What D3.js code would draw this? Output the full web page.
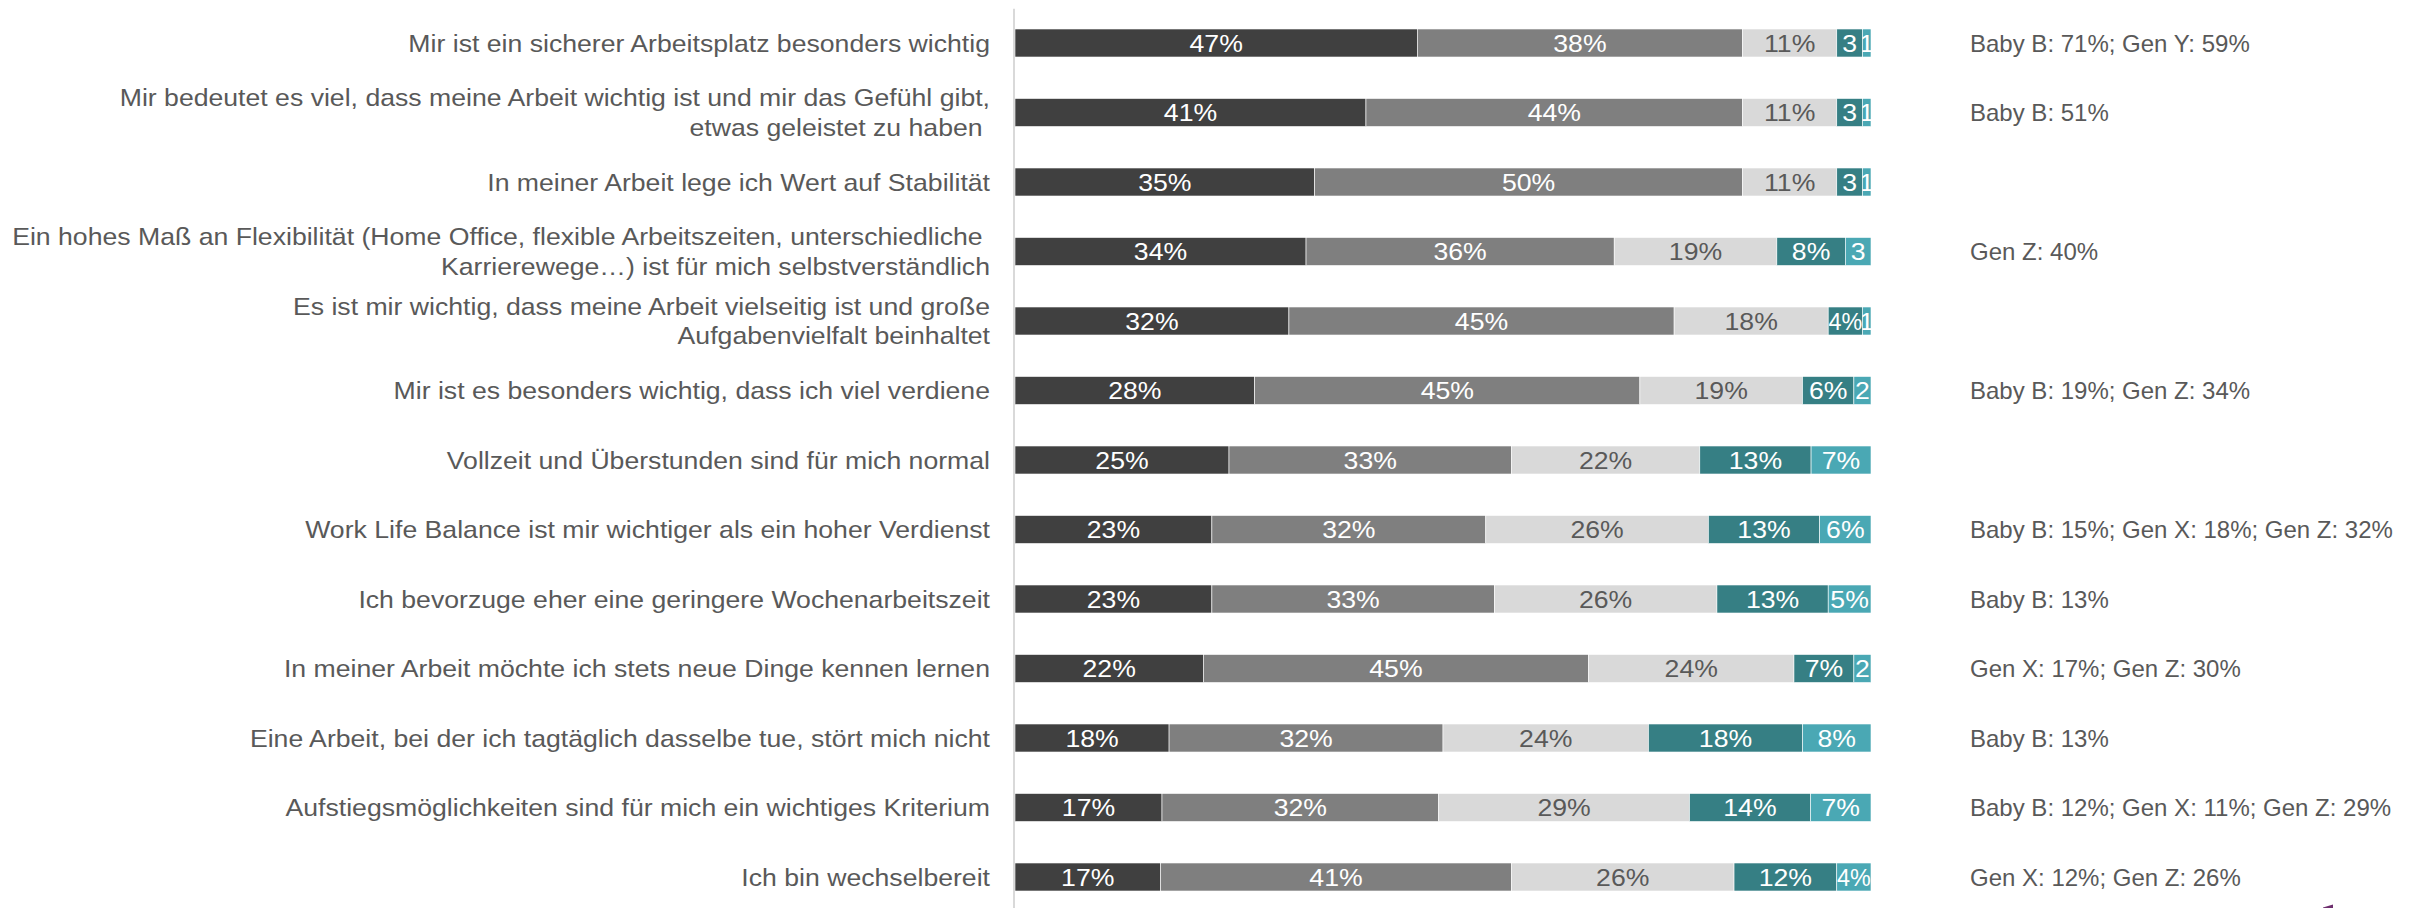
<!DOCTYPE html>
<html lang="de">
<head>
<meta charset="utf-8">
<title>Einstellungen zur Arbeit</title>
<script src="https://cdn.jsdelivr.net/npm/d3@7"></script>
<style>
  html, body { margin: 0; padding: 0; background: #ffffff; }
  svg { display: block; font-family: "Liberation Sans", Arial, Helvetica, sans-serif; }
  text { white-space: pre; }
</style>
</head>
<body>
<svg id="chart" width="2413" height="908"></svg>
<script>
// Statements, top to bottom ("\n" marks a manual line break)
const categories = [
  "Mir ist ein sicherer Arbeitsplatz besonders wichtig",
  "Mir bedeutet es viel, dass meine Arbeit wichtig ist und mir das Gefühl gibt,\netwas geleistet zu haben\u00a0",
  "In meiner Arbeit lege ich Wert auf Stabilität",
  "Ein hohes Maß an Flexibilität (Home Office, flexible Arbeitszeiten, unterschiedliche\u00a0\nKarrierewege…) ist für mich selbstverständlich",
  "Es ist mir wichtig, dass meine Arbeit vielseitig ist und große\nAufgabenvielfalt beinhaltet",
  "Mir ist es besonders wichtig, dass ich viel verdiene",
  "Vollzeit und Überstunden sind für mich normal",
  "Work Life Balance ist mir wichtiger als ein hoher Verdienst",
  "Ich bevorzuge eher eine geringere Wochenarbeitszeit",
  "In meiner Arbeit möchte ich stets neue Dinge kennen lernen",
  "Eine Arbeit, bei der ich tagtäglich dasselbe tue, stört mich nicht",
  "Aufstiegsmöglichkeiten sind für mich ein wichtiges Kriterium",
  "Ich bin wechselbereit"
];

// Answer shares in percent, one array per answer level
const agreeFull      = [47, 41, 35, 34, 32, 28, 25, 23, 23, 22, 18, 17, 17];
const agreeMostly    = [38, 44, 50, 36, 45, 45, 33, 32, 33, 45, 32, 32, 41];
const neutral        = [11, 11, 11, 19, 18, 19, 22, 26, 26, 24, 24, 29, 26];
const disagreeMostly = [ 3,  3,  3,  8,  4,  6, 13, 13, 13,  7, 18, 14, 12];
const disagreeFull   = [ 1,  1,  1,  3,  1,  2,  7,  6,  5,  2,  8,  7,  4];

// Notes on generation differences, shown right of each bar
const notes = [
  "Baby B: 71%; Gen Y: 59%",
  "Baby B: 51%",
  "",
  "Gen Z: 40%",
  "",
  "Baby B: 19%; Gen Z: 34%",
  "",
  "Baby B: 15%; Gen X: 18%; Gen Z: 32%",
  "Baby B: 13%",
  "Gen X: 17%; Gen Z: 30%",
  "Baby B: 13%",
  "Baby B: 12%; Gen X: 11%; Gen Z: 29%",
  "Gen X: 12%; Gen Z: 26%"
];

const seriesKeys = ["agreeFull", "agreeMostly", "neutral", "disagreeMostly", "disagreeFull"];
const seriesValues = { agreeFull, agreeMostly, neutral, disagreeMostly, disagreeFull };

const fill = d3.scaleOrdinal()
  .domain(seriesKeys)
  .range(["#404040", "#7f7f7f", "#d9d9d9", "#367f84", "#4aa8b4"]);
const labelFill = d3.scaleOrdinal()
  .domain(seriesKeys)
  .range(["#ffffff", "#ffffff", "#595959", "#ffffff", "#ffffff"]);

const svg = d3.select("#chart");
const textGrey = "#595959";
const fontSize = 24;
const stretch = 1.11;   // horizontal stretch of the chart's text

const rows = categories.map((c, i) => {
  const r = { index: i };
  seriesKeys.forEach(k => { r[k] = seriesValues[k][i]; });
  return r;
});

// 100 % stacked layout
const stacked = d3.stack().keys(seriesKeys).offset(d3.stackOffsetExpand)(rows);

const x = d3.scaleLinear().domain([0, 1]).range([1015, 1871]);
const y = d3.scaleBand()
  .domain(d3.range(categories.length))
  .range([8.25, 911.75])
  .paddingInner(0.597)
  .paddingOuter(0.2985);

// Segments
const defs = svg.append("defs");
const segLayer = svg.append("g");
const lblLayer = svg.append("g")
  .attr("font-size", fontSize)
  .attr("text-anchor", "middle");

stacked.forEach(layer => {
  const key = layer.key;
  layer.forEach(seg => {
    const i = seg.data.index;
    const x0 = x(seg[0]), x1 = x(seg[1]);
    const sw = Math.max(0, x1 - x0);
    const y0 = y(i), h = y.bandwidth();
    segLayer.append("rect")
      .attr("x", x0)
      .attr("y", y0)
      .attr("width", sw)
      .attr("height", h)
      .attr("fill", fill(key))
      .attr("stroke", "#ffffff")
      .attr("stroke-width", 0.6);

    const clipId = `clip-${key}-${i}`;
    defs.append("clipPath").attr("id", clipId)
      .append("rect")
      .attr("x", x0).attr("y", y0)
      .attr("width", sw).attr("height", h);

    const v = seriesValues[key][i];
    const cx = (x0 + x1) / 2, cy = y0 + h / 2;
    const t = lblLayer.append("g")
      .attr("clip-path", `url(#${clipId})`)
      .append("text")
      .attr("dy", "0.36em")
      .attr("fill", labelFill(key))
      .text(`${v}%`);
    const len = t.node().getComputedTextLength();
    let sx = stretch;
    if (len * stretch > sw + 5) {
      // far too wide: keep only the number
      t.text(`${v}`);
    } else if (len * stretch > sw - 0.5) {
      // slightly too wide: narrow the label to the segment
      sx = Math.min(stretch, (sw - 0.5) / len);
    }
    t.attr("transform", `translate(${cx},${cy}) scale(${sx},1)`);
  });
});

// Vertical category axis line
const axis = svg.append("g")
  .attr("transform", "translate(1013.5,0)")
  .call(d3.axisLeft(y).tickSize(0).tickSizeOuter(0).tickFormat(() => ""));
axis.select(".domain").attr("stroke", "#d9d9d9").attr("stroke-width", 2);

// Category labels (right aligned, multi-line)
const lineHeight = 29.5;
const catLayer = svg.append("g")
  .attr("font-size", fontSize)
  .attr("fill", textGrey)
  .attr("text-anchor", "end");
categories.forEach((c, i) => {
  const lines = c.split("\n");
  const cy = y(i) + y.bandwidth() / 2;
  const t = catLayer.append("text")
    .attr("transform", `translate(990,${cy - (lines.length - 1) * lineHeight / 2}) scale(${stretch},1)`);
  lines.forEach((ln, j) => {
    t.append("tspan")
      .attr("x", 0)
      .attr("dy", j === 0 ? "0.36em" : lineHeight)
      .text(ln);
  });
});

// Generation notes
const noteLayer = svg.append("g")
  .attr("font-size", fontSize)
  .attr("fill", textGrey);
notes.forEach((n, i) => {
  if (!n) return;
  noteLayer.append("text")
    .attr("x", 1970)
    .attr("y", y(i) + y.bandwidth() / 2)
    .attr("dy", "0.36em")
    .text(n);
});

// Small page mark at the lower right edge
svg.append("path")
  .attr("d", "M2323,907.5 L2333,904.5 L2333,908 L2323,908 Z")
  .attr("fill", "#6e2f6e");
</script>
</body>
</html>
